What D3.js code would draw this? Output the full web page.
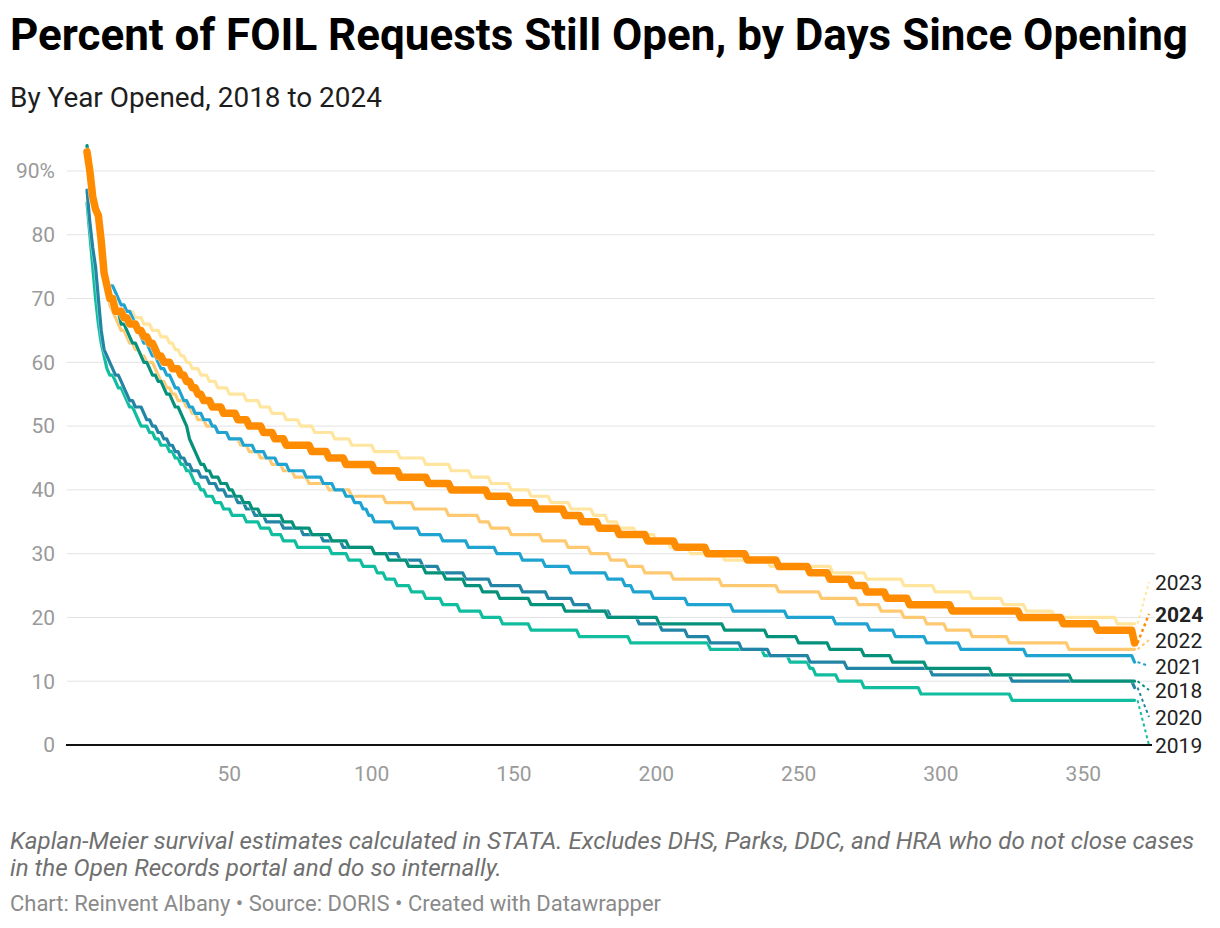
<!DOCTYPE html>
<html>
<head>
<meta charset="utf-8">
<script src="https://cdn.jsdelivr.net/npm/d3@7"></script>
<style>
  body { margin: 0; background: #fff; }
  svg { display: block; font-family: Roboto, sans-serif; }
</style>
</head>
<body>
<svg id="chart" width="1220" height="928"></svg>
<script>
// each point = [day, percent still open] where the curve settles on a new level
var years = ['2018', '2019', '2020', '2021', '2022', '2023', '2024'];
var data2018 = [[0,94],[1,90],[2,86],[3,84],[4,83],[5,79],[6,74],[7,72],[8,70],[10,68],[12,66],[14,65],[15,64],[16,63],[18,62],[19,61],[20,60],[22,59],[23,58],[25,57],[27,56],[28,55],[30,54],[31,53],[33,52],[34,51],[35,50],[36,48],[37,47],[38,46],[39,45],[40,44],[42,43],[44,42],[47,41],[50,40],[52,39],[55,38],[58,37],[61,36],[69,35],[73,34],[79,33],[86,32],[92,31],[101,30],[106,29],[113,28],[119,27],[126,26],[133,25],[139,24],[145,23],[156,22],[168,21],[183,20],[201,19],[224,18],[239,17],[250,16],[261,15],[273,14],[283,13],[295,12],[318,11],[346,10],[368,10]];
var data2019 = [[0,85],[1,80],[2,75],[3,70],[4,66],[5,63],[6,61],[7,59],[8,58],[10,57],[11,56],[13,55],[14,54],[15,53],[17,52],[18,51],[19,50],[22,49],[24,48],[26,47],[29,46],[31,45],[33,44],[35,43],[37,42],[38,41],[40,40],[42,39],[45,38],[48,37],[51,36],[56,35],[61,34],[65,33],[69,32],[74,31],[86,30],[92,29],[97,28],[102,27],[105,26],[109,25],[114,24],[119,23],[125,22],[131,21],[139,20],[146,19],[156,18],[173,17],[191,16],[219,15],[238,14],[247,13],[254,12],[256,11],[264,10],[273,9],[293,8],[325,7],[368,7]];
var data2020 = [[0,87],[1,82],[2,78],[3,75],[4,70],[5,65],[6,62],[7,61],[8,60],[9,59],[10,58],[12,57],[13,56],[14,55],[15,54],[17,53],[20,52],[21,51],[23,50],[25,49],[27,48],[29,47],[31,46],[33,45],[35,44],[37,43],[40,42],[43,41],[46,40],[49,39],[53,38],[56,37],[59,36],[63,35],[69,34],[76,33],[83,32],[90,31],[101,30],[110,29],[118,28],[124,27],[133,26],[142,25],[153,24],[162,23],[171,22],[177,21],[184,20],[194,19],[202,18],[211,17],[219,16],[230,15],[240,14],[254,13],[267,12],[297,11],[325,10],[367,10],[368,9]];
var data2021 = [[0,93],[1,90],[2,86],[3,84],[4,83],[5,79],[6,74],[7,72],[10,71],[11,70],[12,69],[14,68],[16,67],[17,66],[18,65],[19,64],[20,63],[22,62],[23,61],[25,60],[26,59],[28,58],[30,57],[31,56],[33,55],[34,54],[36,53],[38,52],[41,51],[44,50],[46,49],[50,48],[55,47],[59,46],[63,45],[67,44],[71,43],[77,42],[83,41],[87,40],[91,39],[94,38],[97,37],[99,36],[101,35],[108,34],[117,33],[125,32],[134,31],[144,30],[153,29],[161,28],[170,27],[183,26],[189,25],[192,24],[199,23],[211,22],[227,21],[246,20],[263,19],[275,18],[284,17],[295,16],[307,15],[330,14],[367,14],[368,13]];
var data2022 = [[0,93],[1,90],[2,86],[3,84],[4,83],[5,79],[6,74],[7,72],[8,69],[9,68],[10,67],[11,66],[12,65],[14,64],[15,63],[17,62],[19,61],[21,60],[24,59],[25,58],[26,57],[28,56],[30,55],[32,54],[35,53],[37,52],[39,51],[42,50],[46,49],[50,48],[54,47],[57,46],[61,45],[65,44],[69,43],[73,42],[78,41],[85,40],[93,39],[105,38],[115,37],[127,36],[138,35],[142,34],[149,33],[160,32],[169,31],[177,30],[184,29],[190,28],[196,27],[206,26],[223,25],[243,24],[258,23],[271,22],[279,21],[287,20],[295,19],[302,18],[311,17],[324,16],[345,15],[368,15]];
var data2023 = [[0,93],[1,90],[2,86],[3,84],[4,83],[5,79],[6,74],[7,72],[8,70],[10,69],[14,68],[17,67],[20,66],[23,65],[26,64],[29,63],[31,62],[33,61],[35,60],[37,59],[40,58],[43,57],[46,56],[50,55],[56,54],[61,53],[65,52],[70,51],[75,50],[80,49],[87,48],[93,47],[101,46],[110,45],[119,44],[128,43],[135,42],[142,41],[149,40],[156,39],[163,38],[170,37],[178,36],[183,35],[187,34],[193,33],[200,32],[205,31],[212,30],[224,29],[240,28],[262,27],[274,26],[287,25],[298,24],[311,23],[322,22],[330,21],[340,20],[362,19],[368,19]];
var data2024 = [[0,93],[1,90],[2,86],[3,84],[4,83],[5,79],[6,74],[7,72],[8,70],[10,68],[13,67],[15,66],[18,65],[20,64],[22,63],[24,62],[25,61],[27,60],[30,59],[33,58],[35,57],[37,56],[39,55],[41,54],[44,53],[48,52],[53,51],[57,50],[62,49],[66,48],[70,47],[79,46],[85,45],[91,44],[101,43],[110,42],[120,41],[128,40],[141,39],[149,38],[158,37],[168,36],[174,35],[180,34],[187,33],[197,32],[207,31],[218,30],[232,29],[243,28],[254,27],[261,26],[269,25],[274,24],[281,23],[289,22],[304,21],[328,20],[343,19],[355,18],[367,18],[368,16]];
var yTicks = [0, 10, 20, 30, 40, 50, 60, 70, 80, 90];
var xTicks = [50, 100, 150, 200, 250, 300, 350];
var labelOrder = ['2023', '2024', '2022', '2021', '2018', '2020', '2019'];

var series = {
    '2018': {pts: data2018, color: '#06917a'},
    '2019': {pts: data2019, color: '#10bd9f'},
    '2020': {pts: data2020, color: '#2285a5'},
    '2021': {pts: data2021, color: '#1fa3d1'},
    '2022': {pts: data2022, color: '#ffc971'},
    '2023': {pts: data2023, color: '#ffe59d'},
    '2024': {pts: data2024, color: '#ff8c00'}
};
var drawOrder = ['2023', '2022', '2021', '2019', '2020', '2018', '2024'];
var labelY = [582, 614, 640, 666, 690, 717, 745];

var svg = d3.select('#chart');
var x = d3.scaleLinear().domain([0, 365]).range([87, 1126]),
    y = d3.scaleLinear().domain([0, 90]).range([745, 171]);

// shrink/grow a text's font so it spans the width seen in the original
function fit(sel, w) {
    var fs = parseFloat(sel.attr('font-size'));
    var cur = sel.node().getComputedTextLength();
    sel.attr('font-size', (fs * w / cur).toFixed(2));
    return sel;
}

fit(svg.append('text').attr('x', 10).attr('y', 50).attr('font-size', 42).attr('font-weight', 700)
    .attr('fill', '#000').text('Percent of FOIL Requests Still Open, by Days Since Opening'), 1178);
fit(svg.append('text').attr('x', 10).attr('y', 107).attr('font-size', 26)
    .attr('fill', '#1d1d1d').text('By Year Opened, 2018 to 2024'), 372);

// grid
svg.append('g').selectAll('line').data(yTicks.filter(function(d) { return d > 0; })).enter().append('line')
    .attr('x1', 67).attr('x2', 1155)
    .attr('y1', function(d) { return y(d); }).attr('y2', function(d) { return y(d); })
    .attr('stroke', '#e3e3e3').attr('stroke-width', 1);
svg.append('g').selectAll('text').data(yTicks).enter().append('text')
    .attr('x', 55).attr('y', function(d) { return y(d); }).attr('dy', '0.35em')
    .attr('text-anchor', 'end').attr('font-size', 21).attr('fill', '#9a9a9a')
    .text(function(d) { return d === 90 ? d + '%' : d; });
svg.append('g').selectAll('text').data(xTicks).enter().append('text')
    .attr('x', function(d) { return x(d); }).attr('y', 781)
    .attr('text-anchor', 'middle').attr('font-size', 21).attr('fill', '#9a9a9a')
    .text(function(d) { return d; });

function stairs(pts) {
    var out = [];
    pts.forEach(function(p, i) {
        if (i > 0 && p[0] - 1 > pts[i - 1][0]) out.push([p[0] - 1, pts[i - 1][1]]);
        out.push(p);
    });
    return out;
}
var line = d3.line().x(function(d) { return x(d[0]); }).y(function(d) { return y(d[1]); });

var lines = svg.append('g');
drawOrder.forEach(function(k) {
    var s = series[k], w = k === '2024' ? 7.5 : 3.2;
    lines.append('path').attr('d', line(stairs(s.pts))).attr('fill', 'none')
        .attr('stroke', '#fff').attr('stroke-width', w + 1).attr('stroke-opacity', 0.6)
        .attr('stroke-linejoin', 'round').attr('stroke-linecap', 'round');
    lines.append('path').attr('d', line(stairs(s.pts))).attr('fill', 'none')
        .attr('stroke', s.color).attr('stroke-width', w)
        .attr('stroke-linejoin', 'round').attr('stroke-linecap', 'round');
});

svg.append('line').attr('x1', 66).attr('x2', 1152).attr('y1', y(0)).attr('y2', y(0))
    .attr('stroke', '#111').attr('stroke-width', 2);

// end labels with dotted leaders
var labels = svg.append('g');
labelOrder.forEach(function(k, i) {
    var s = series[k], last = s.pts[s.pts.length - 1], ly = labelY[i];
    labels.append('line').attr('x1', x(last[0]) + 3).attr('y1', y(last[1]))
        .attr('x2', 1149).attr('y2', ly)
        .attr('stroke', s.color).attr('stroke-width', k === '2024' ? 2.5 : 2).attr('stroke-dasharray', '3,3');
    labels.append('text').attr('x', 1155).attr('y', ly).attr('dy', '0.36em')
        .attr('font-size', 21).attr('fill', '#222').attr('font-weight', k === '2024' ? 700 : 400)
        .text(k);
});

var note = fit(svg.append('text').attr('x', 10).attr('y', 849).attr('font-size', 21).attr('font-style', 'italic')
    .attr('fill', '#707070').text('Kaplan-Meier survival estimates calculated in STATA. Excludes DHS, Parks, DDC, and HRA who do not close cases'), 1185);
svg.append('text').attr('x', 10).attr('y', 876).attr('font-size', note.attr('font-size')).attr('font-style', 'italic')
    .attr('fill', '#707070').text('in the Open Records portal and do so internally.');
fit(svg.append('text').attr('x', 10).attr('y', 911).attr('font-size', 19)
    .attr('fill', '#8a8a8a').text('Chart: Reinvent Albany \u2022 Source: DORIS \u2022 Created with Datawrapper'), 651);
</script>
</body>
</html>
